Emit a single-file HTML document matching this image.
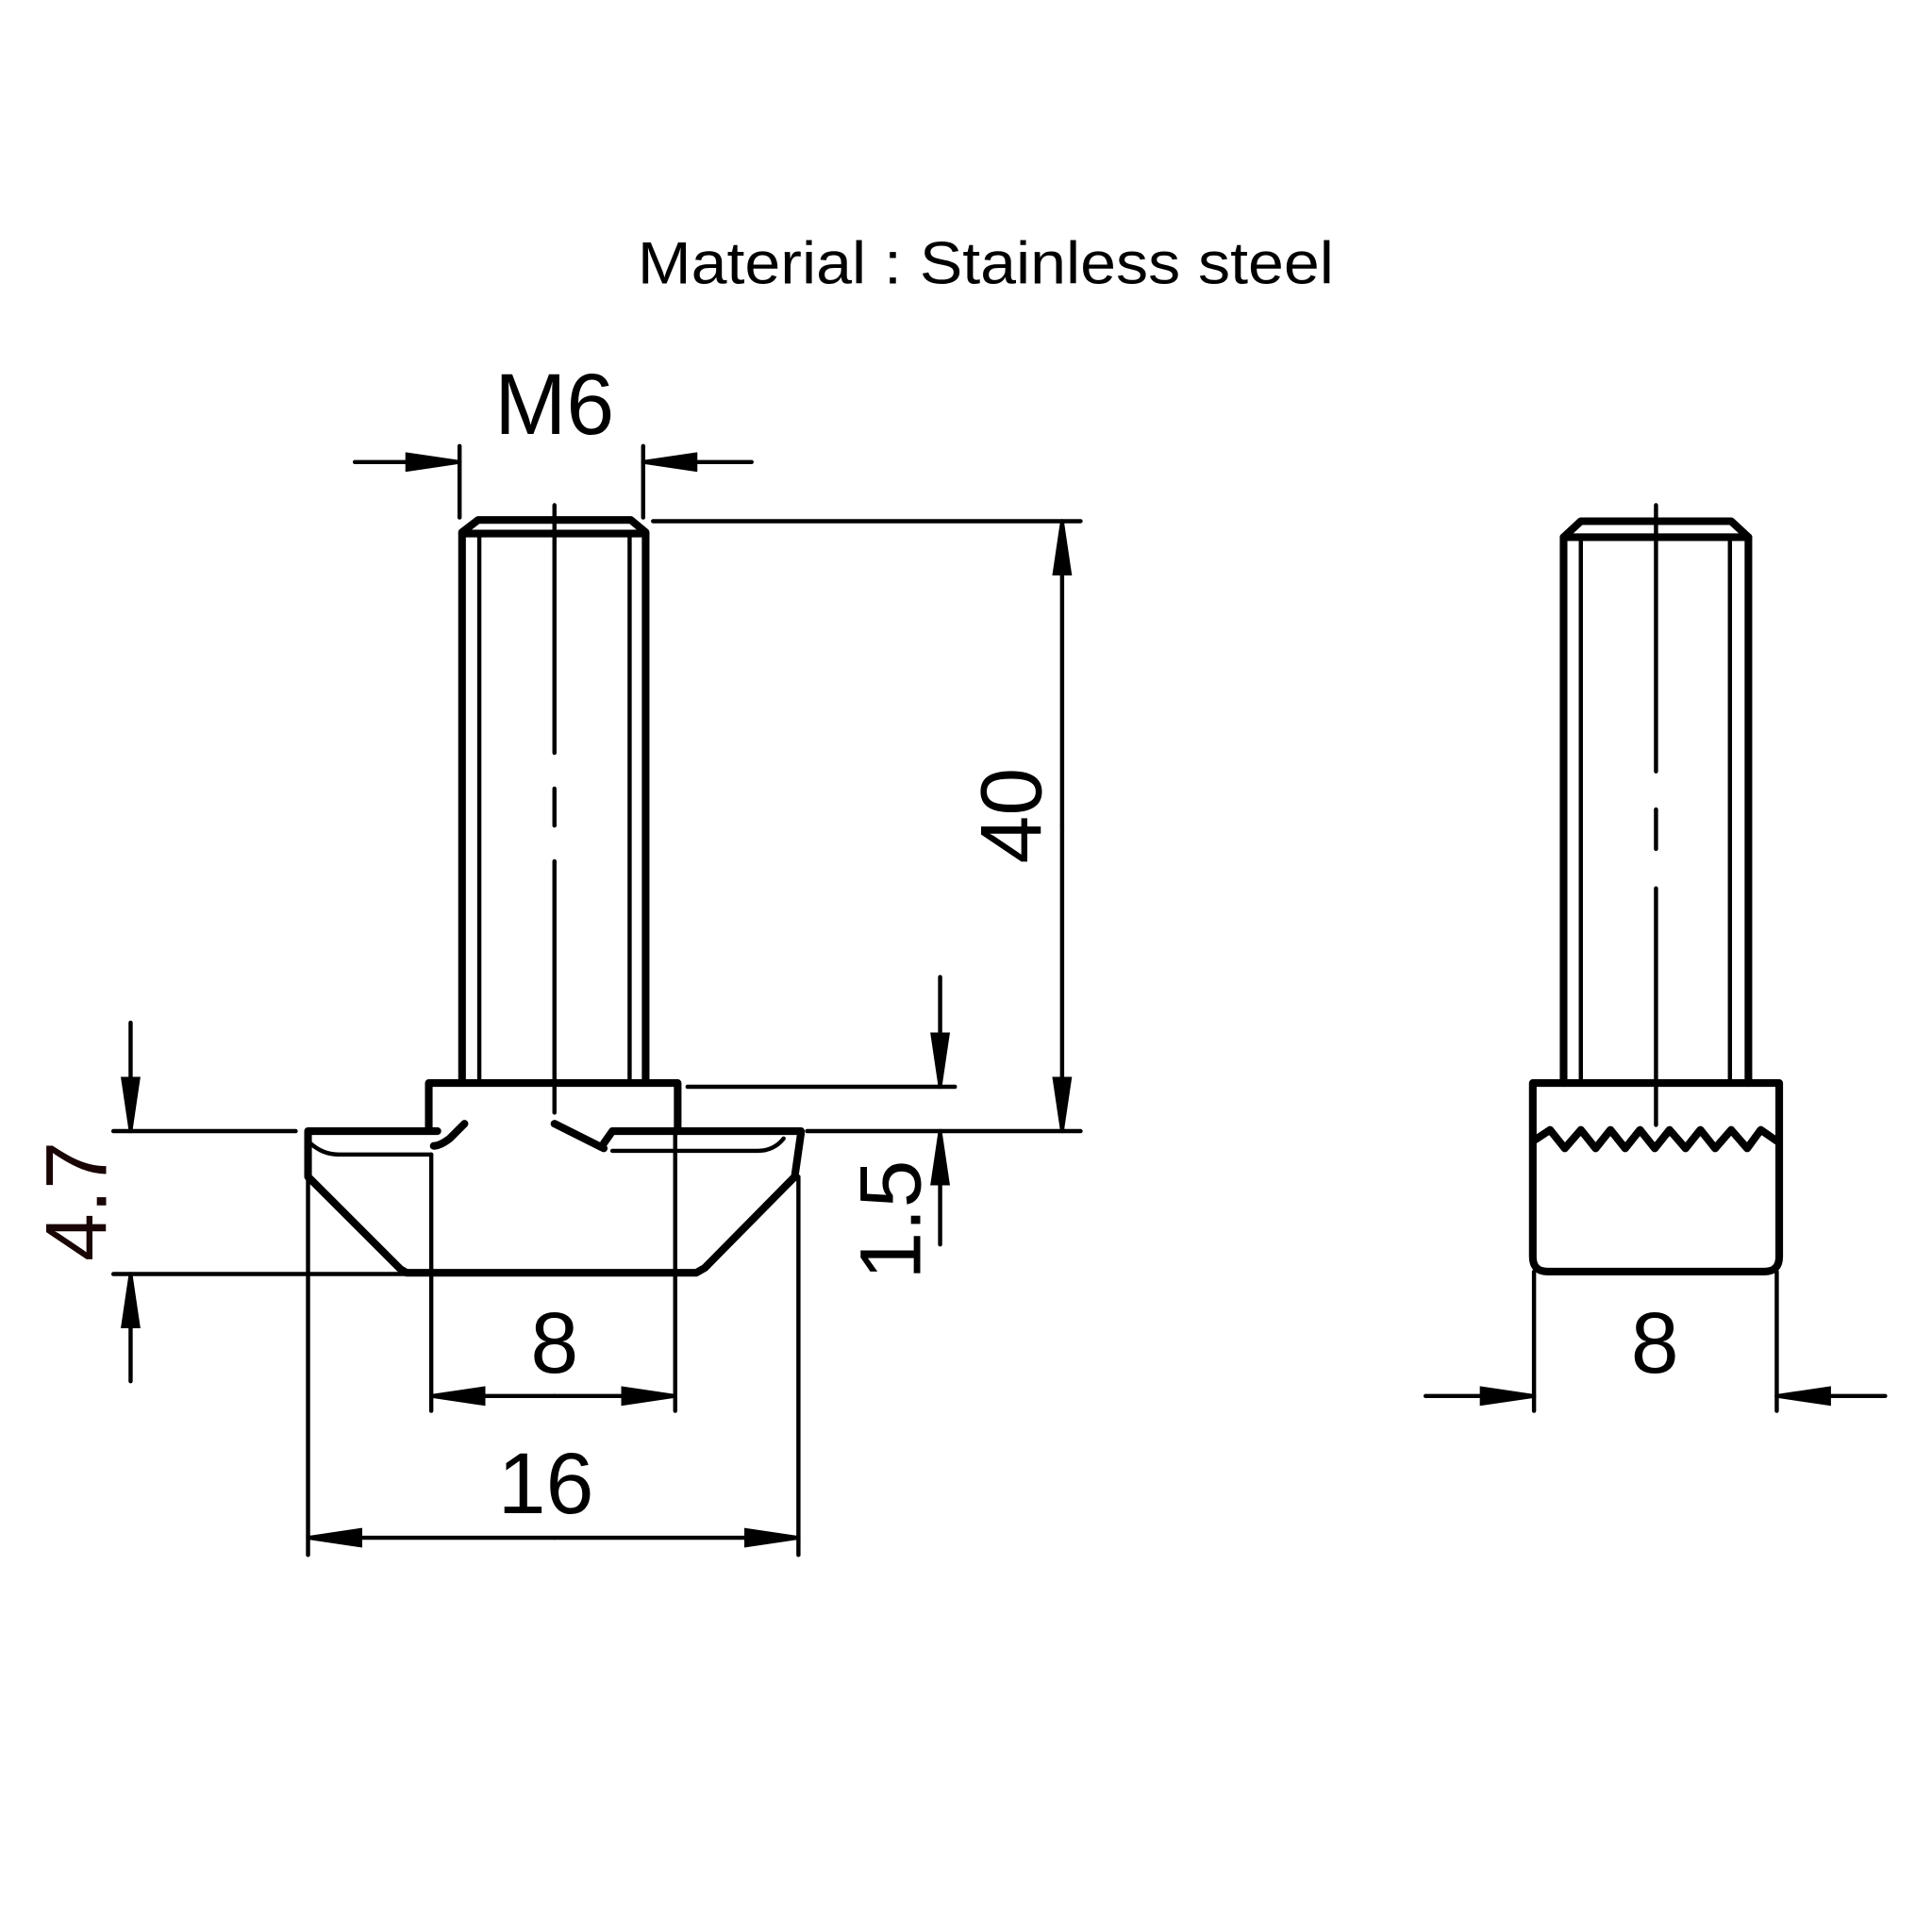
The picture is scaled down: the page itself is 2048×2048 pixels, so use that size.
<!DOCTYPE html>
<html><head><meta charset="utf-8"><style>html,body{margin:0;padding:0;background:#fff}svg{display:block}</style></head>
<body>
<svg width="2048" height="2048" viewBox="0 0 1568 1568" xmlns="http://www.w3.org/2000/svg">
<defs>
<marker id="a" viewBox="0 0 44 16" refX="44" refY="8" markerWidth="44" markerHeight="16" markerUnits="userSpaceOnUse" orient="auto"><path d="M0,0 L44,6.5 L44,9.5 L0,16 Z" fill="#000"/></marker>
</defs>
<rect width="1568" height="1568" fill="#fff"/>
<text x="800" y="230" font-family="Liberation Sans, sans-serif" font-size="48" text-anchor="middle" textLength="565" lengthAdjust="spacingAndGlyphs">Material : Stainless steel</text>

<g stroke="#000" fill="none" stroke-linecap="round" stroke-linejoin="round">
<g stroke-width="6.2">
<path d="M375,879 L375,432 L388,422 L512,422 L524,432 L524,879"/>
<line x1="375" y1="433" x2="524" y2="433"/>
</g>
<g stroke-width="3.4">
<line x1="389" y1="433" x2="389" y2="879"/>
<line x1="511" y1="433" x2="511" y2="879"/>
<line x1="450" y1="410" x2="450" y2="611"/>
<line x1="450" y1="640" x2="450" y2="670"/>
<line x1="450" y1="699" x2="450" y2="903"/>
</g>
<g stroke-width="6.2">
<path d="M348,918 L348,879 L550,879 L550,918"/>
<path d="M355,918 L250,918 L250,955 L325,1030 L330,1033 L565,1033 L572,1029 L645,955 L650,920 L650,918 L497,918 L490,928"/>
<path d="M377,912 L365,924 Q357,930 352,930"/>
<path d="M450,912 L490,932"/>
</g>
<g stroke-width="3.4">
<path d="M252,928 Q262,937 275,937 L350,937"/>
<path d="M497,934 L615,934 Q628,934 636,924"/>
<line x1="350" y1="937" x2="350" y2="1145"/>
<line x1="548" y1="918" x2="548" y2="1145"/>
<line x1="250" y1="955" x2="250" y2="1262"/>
<line x1="648" y1="955" x2="648" y2="1262"/>
<line x1="373" y1="362" x2="373" y2="420"/>
<line x1="522" y1="362" x2="522" y2="420"/>
<line x1="288" y1="375" x2="373" y2="375" marker-end="url(#a)"/>
<line x1="610" y1="375" x2="522" y2="375" marker-end="url(#a)"/>
<line x1="530" y1="423" x2="877" y2="423"/>
<line x1="655" y1="918" x2="877" y2="918"/>
<line x1="862" y1="670" x2="862" y2="423" marker-end="url(#a)"/>
<line x1="862" y1="670" x2="862" y2="918" marker-end="url(#a)"/>
<line x1="558" y1="882" x2="775" y2="882"/>
<line x1="763" y1="793" x2="763" y2="882" marker-end="url(#a)"/>
<line x1="763" y1="1010" x2="763" y2="918" marker-end="url(#a)"/>
<line x1="92" y1="918" x2="240" y2="918"/>
<line x1="92" y1="1034" x2="330" y2="1034"/>
<line x1="106" y1="830" x2="106" y2="918" marker-end="url(#a)"/>
<line x1="106" y1="1121" x2="106" y2="1034" marker-end="url(#a)"/>
<line x1="450" y1="1133" x2="350" y2="1133" marker-end="url(#a)"/>
<line x1="450" y1="1133" x2="548" y2="1133" marker-end="url(#a)"/>
<line x1="450" y1="1248" x2="250" y2="1248" marker-end="url(#a)"/>
<line x1="450" y1="1248" x2="648" y2="1248" marker-end="url(#a)"/>
</g>

<g stroke-width="6.2">
<path d="M1269,879 L1269,436 L1283,423 L1405,423 L1419,436 L1419,879"/>
<line x1="1269" y1="436" x2="1419" y2="436"/>
<path d="M1244,879 L1444,879 L1444,1020 Q1444,1032 1432,1032 L1256,1032 Q1244,1032 1244,1020 Z"/>
<path d="M1246,925 L1258,917 L1270,932 L1283,917 L1295,932 L1307,917 L1319,932 L1331,917 L1343,932 L1355,917 L1368,932 L1380,917 L1392,932 L1405,917 L1418,932 L1429,917 L1442,926"/>
</g>
<g stroke-width="3.4">
<line x1="1283" y1="436" x2="1283" y2="879"/>
<line x1="1404" y1="436" x2="1404" y2="879"/>
<line x1="1344" y1="410" x2="1344" y2="626"/>
<line x1="1344" y1="657" x2="1344" y2="689"/>
<line x1="1344" y1="721" x2="1344" y2="913"/>
<line x1="1245" y1="1032" x2="1245" y2="1145"/>
<line x1="1442" y1="1032" x2="1442" y2="1145"/>
<line x1="1157" y1="1133" x2="1245" y2="1133" marker-end="url(#a)"/>
<line x1="1530" y1="1133" x2="1442" y2="1133" marker-end="url(#a)"/>
</g>
</g>

<g font-family="Liberation Sans, sans-serif" font-size="70" fill="#000" text-anchor="middle">
<text x="450" y="352">M6</text>
<text x="450" y="1114">8</text>
<text x="443" y="1228">16</text>
<text x="1343" y="1114">8</text>
<text transform="translate(845,662) rotate(-90)">40</text>
<text transform="translate(747,990) rotate(-90)">1.5</text>
<text transform="translate(86,975) rotate(-90)" fill="#1a0505">4.7</text>
</g>
</svg>
</body></html>
